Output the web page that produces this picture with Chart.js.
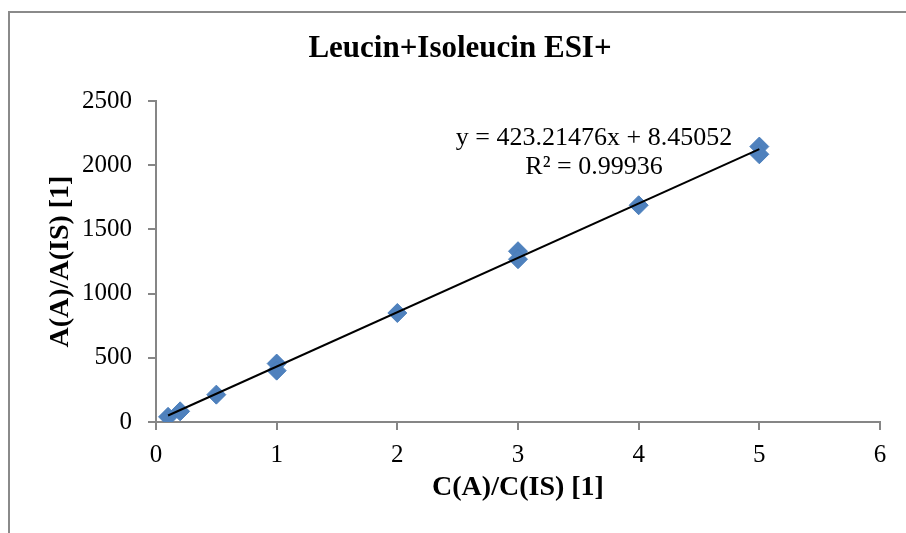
<!DOCTYPE html>
<html lang="en">
<head>
    <meta charset="UTF-8">
    <title>Leucin+Isoleucin ESI+</title>
    <style>
        body {
            margin: 0;
            background: #ffffff;
        }
        .wrap {
            position: relative;
            width: 906px;
            height: 533px;
            overflow: hidden;
        }
        .frame {
            position: absolute;
            left: 8px;
            top: 11px;
            width: 1000px;
            height: 600px;
            border-left: 2px solid #8a8a8a;
            border-top: 2px solid #8a8a8a;
        }
        canvas {
            position: absolute;
            left: 0;
            top: 0;
        }
    </style>
</head>
<body>
    <div class="wrap">
        <div class="frame"></div>
        <canvas id="calChart" width="906" height="533"></canvas>
    </div>

    <script src="https://cdn.jsdelivr.net/npm/chart.js"></script>
    <script>
        // calibration points
        const concRatio = [0.1, 0.2, 0.5, 1, 1, 2, 3, 3, 4, 5, 5];
        const areaRatio = [40, 83, 213, 455, 400, 849, 1330, 1268, 1688, 2145, 2085];

        // linear trend line, ends at first and last concentration
        const trendX = [0.1, 5];
        const trendY = [50.77, 2124.52];

        const equationLines = ['y = 423.21476x + 8.45052', 'R\u00b2 = 0.99936'];
        const chartTitle = 'Leucin+Isoleucin ESI+';
        const xTitle = 'C(A)/C(IS) [1]';
        const yTitle = 'A(A)/A(IS) [1]';

        const serif = "'Liberation Serif', 'Times New Roman', serif";
        const axisGray = '#868686';

        Chart.defaults.font.family = serif;
        Chart.defaults.color = '#000000';

        const textPlugin = {
            id: 'textPlugin',
            afterDatasetsDraw(chart) {
                const ctx = chart.ctx;
                const xs = chart.scales.x;
                const ys = chart.scales.y;
                ctx.save();
                ctx.fillStyle = '#000000';
                ctx.textAlign = 'center';
                ctx.textBaseline = 'middle';

                ctx.font = 'bold 31px ' + serif;
                ctx.fillText(chartTitle, chart.width / 2 + 7, 49);

                ctx.font = '26px ' + serif;
                const ex = xs.getPixelForValue(3.63);
                const ey = ys.getPixelForValue(2212);
                equationLines.forEach((line, i) => {
                    ctx.fillText(line, ex, ey + i * 29);
                });
                ctx.restore();
            }
        };

        const ctx = document.getElementById('calChart').getContext('2d');
        new Chart(ctx, {
            type: 'scatter',
            data: {
                datasets: [
                    {
                        label: 'Linear',
                        data: trendX.map((x, i) => ({ x: x, y: trendY[i] })),
                        showLine: true,
                        borderColor: '#000000',
                        borderWidth: 2,
                        pointRadius: 0,
                        order: 0
                    },
                    {
                        label: 'Leucin+Isoleucin',
                        data: concRatio.map((x, i) => ({ x: x, y: areaRatio[i] })),
                        pointStyle: 'rectRot',
                        pointRadius: 9.5,
                        pointBackgroundColor: '#4f81bd',
                        pointBorderColor: '#4a7ebb',
                        pointBorderWidth: 1,
                        order: 1
                    }
                ]
            },
            options: {
                responsive: false,
                animation: false,
                devicePixelRatio: 1,
                layout: {
                    padding: { top: 101, right: 26, bottom: 0, left: 0 }
                },
                plugins: {
                    legend: { display: false },
                    tooltip: { enabled: false },
                    title: { display: false }
                },
                scales: {
                    x: {
                        type: 'linear',
                        min: 0,
                        max: 6,
                        afterFit: (scale) => { scale.height = 111; },
                        ticks: {
                            stepSize: 1,
                            padding: 10,
                            font: { size: 25 },
                            color: '#000000',
                            callback: (v) => String(v)
                        },
                        grid: {
                            drawOnChartArea: false,
                            drawTicks: true,
                            tickLength: 8,
                            color: axisGray,
                            lineWidth: 2
                        },
                        border: { color: axisGray, width: 2 },
                        title: {
                            display: true,
                            text: xTitle,
                            font: { size: 28, weight: 'bold' },
                            color: '#000000',
                            padding: { top: 0, bottom: 28 }
                        }
                    },
                    y: {
                        type: 'linear',
                        min: 0,
                        max: 2500,
                        afterFit: (scale) => { scale.width = 156; },
                        ticks: {
                            stepSize: 500,
                            padding: 16,
                            font: { size: 25 },
                            color: '#000000',
                            callback: (v) => String(v)
                        },
                        grid: {
                            drawOnChartArea: false,
                            drawTicks: true,
                            tickLength: 8,
                            color: axisGray,
                            lineWidth: 2
                        },
                        border: { color: axisGray, width: 2 },
                        title: {
                            display: true,
                            text: yTitle,
                            font: { size: 28, weight: 'bold' },
                            color: '#000000',
                            padding: { top: 44, bottom: 0 }
                        }
                    }
                }
            },
            plugins: [textPlugin]
        });
    </script>
</body>
</html>
